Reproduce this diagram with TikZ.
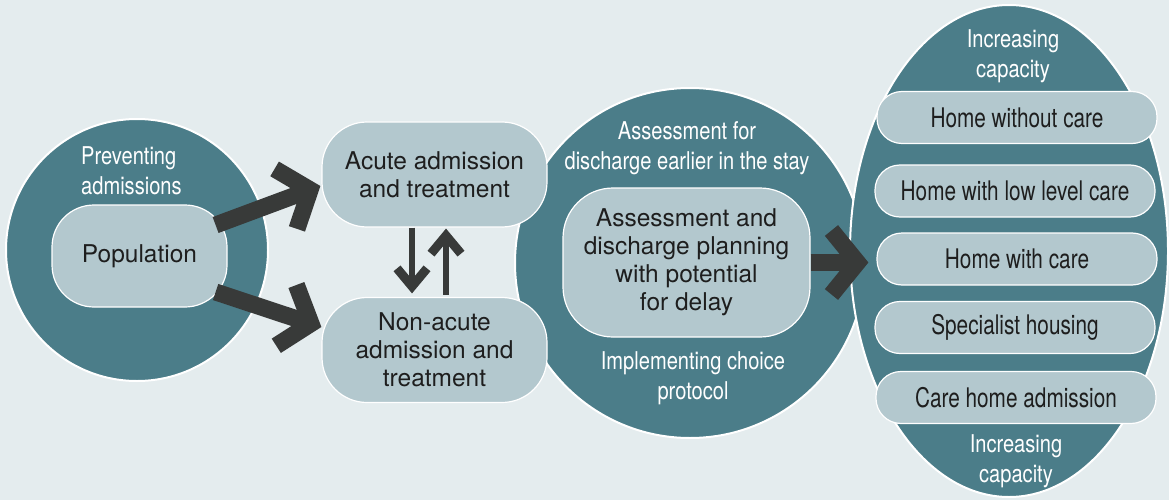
\documentclass[tikz,border=0pt]{standalone}
\usepackage{fontspec}
\setmainfont{TeX Gyre Heros}
\newfontfamily\condwhite{TeX Gyre Heros}[FakeStretch=0.82]
\newfontfamily\condpill{TeX Gyre Heros}[FakeStretch=0.77]
\usetikzlibrary{arrows.meta,shapes.geometric,calc}
\definecolor{bgc}{HTML}{E4ECEE}
\definecolor{tealc}{HTML}{4B7D89}
\definecolor{boxc}{HTML}{B3C8CE}
\definecolor{arrc}{HTML}{383A39}
\definecolor{txtc}{HTML}{1E1E1E}
\begin{document}
\begin{tikzpicture}[x=1pt,y=-1pt,
  bigcirc/.style={circle, fill=tealc, draw=white, line width=2pt, inner sep=0pt},
  box/.style={rectangle, fill=boxc, draw=white, line width=1.2pt, text=txtc, align=center, inner sep=0pt, font=\fontsize{24.5}{28}\selectfont},
  pill/.style={box, rounded corners=25pt, minimum width=280pt, minimum height=52pt, font=\condpill\fontsize{27}{30}\selectfont},
  wlabel/.style={text=white, align=center, inner sep=0pt, font=\condwhite\fontsize{24.5}{30}\selectfont},
  bigarrow/.style={draw=arrc, line width=17pt, -{Straight Barb[length=26pt,width=64pt]}},
  smallarrow/.style={draw=arrc, line width=6pt, -{Straight Barb[length=18pt,width=30pt,line width=9pt]}}
]
\fill[bgc] (0,0) rectangle (1169,500);
\useasboundingbox (0,0) rectangle (1169,500);

% circles
\node[bigcirc, minimum size=262pt] (lc) at (137,250) {};
\node[bigcirc, minimum size=350pt] (mc) at (690,263) {};
\node[ellipse, fill=tealc, draw=white, line width=2pt, inner sep=0pt, minimum width=318pt, minimum height=492pt] (rc) at (1009,251) {};

% boxes
\node[box, rounded corners=42pt, minimum width=175pt, minimum height=102pt] (pop) at (139.5,256) {Population};
\node[box, rounded corners=45pt, minimum width=225pt, minimum height=105pt] (acute) at (434.5,174.5) {Acute admission\\and treatment};
\node[box, rounded corners=45pt, minimum width=225pt, minimum height=105pt] (nonacute) at (434.5,350) {Non-acute\\admission and\\treatment};
\node[box, rounded corners=50pt, minimum width=247pt, minimum height=149pt] (assess) at (686.5,262.5) {Assessment and\\discharge planning\\with potential\\for delay};

% pills
\node[pill] (home1) at (1017,117.5) {Home without care};
\node[pill] (home2) at (1015,191) {Home with low level care};
\node[pill] (home3) at (1017,259) {Home with care};
\node[pill] (home4) at (1015,327.5) {Specialist housing};
\node[pill] (home5) at (1016,397.5) {Care home admission};

% white labels
\node[wlabel, align=left, anchor=west] (prev) at (81,171) {Preventing\\admissions};
\node[wlabel] (asslab) at (687,148) {Assessment for\\discharge earlier in the stay};
\node[wlabel] (implab) at (693,378) {Implementing choice\\protocol};
\node[wlabel] (inctop) at (1013,56) {Increasing\\capacity};
\node[wlabel] (incbot) at (1016,461) {Increasing\\capacity};

% arrows
\draw[bigarrow] ($(pop.east)+(-12,-31)$) -- ($(acute.west)+(-1,11.5)$);
\draw[bigarrow] ($(pop.east)+(-12,36)$) -- ($(nonacute.west)+(0,-23)$);
\draw[bigarrow] (assess.east) -- ($(assess.east -| home3.west)+(-8,0)$);
\draw[smallarrow] ($(acute.south)+(-22.5,0)$) -- ($(nonacute.north)+(-22.5,-3.5)$);
\draw[smallarrow] ($(nonacute.north)+(11.5,-2)$) -- ($(acute.south)+(11.5,1)$);
\end{tikzpicture}
\end{document}
